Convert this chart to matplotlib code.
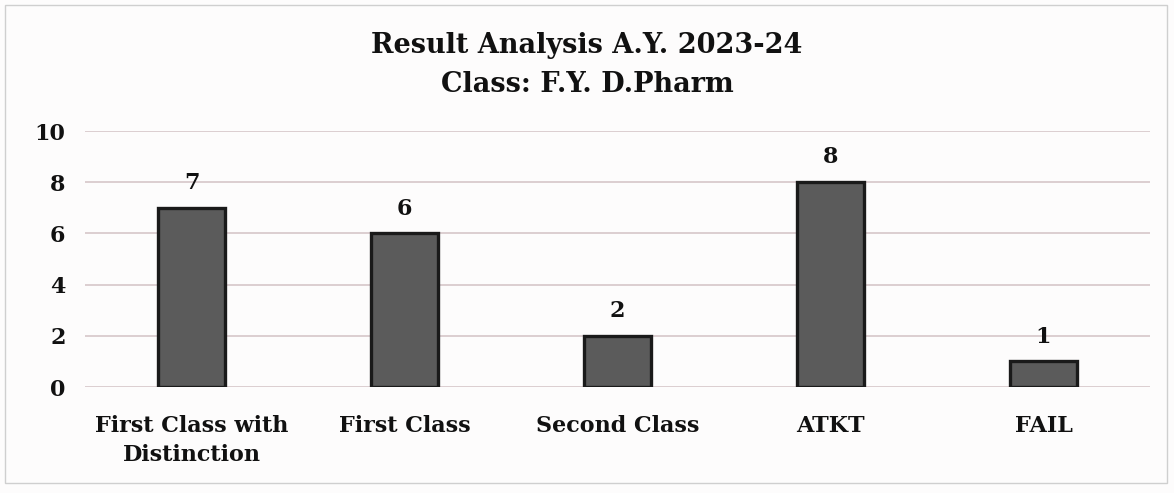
import matplotlib
matplotlib.use('Agg')
import matplotlib.pyplot as plt
from matplotlib.patches import Rectangle

# --- chart data ---
categories = ["First Class with\nDistinction", "First Class", "Second Class", "ATKT", "FAIL"]
counts = [7, 6, 2, 8, 1]
y_ticks = [0, 2, 4, 6, 8, 10]
title_text = "Result Analysis A.Y. 2023-24\nClass: F.Y. D.Pharm"

plt.rcParams['font.family'] = ['DejaVu Serif']
plt.rcParams['font.weight'] = 'bold'

fig = plt.figure(figsize=(11.74, 4.93), dpi=100, facecolor='#fdfcfc')
ax = fig.add_axes([85 / 1174, 1 - 387 / 493, 1065 / 1174, 256 / 493])
ax.set_facecolor('none')

x = list(range(len(categories)))
bars = ax.bar(x, counts, width=0.31, color='#5b5b5b', edgecolor='#1a1a1a', linewidth=2.4, zorder=3)

for rect, val in zip(bars, counts):
    ax.annotate(str(val), (rect.get_x() + rect.get_width() / 2, val),
                xytext=(0, 10), textcoords='offset points', ha='center', va='bottom',
                fontsize=16, fontweight='bold', color='#111111')

ax.set_xlim(-0.5, len(categories) - 0.5)
ax.set_ylim(0, 10)
ax.set_yticks(y_ticks)
ax.set_yticklabels([str(t) for t in y_ticks], fontsize=16, fontweight='bold', color='#111111')
ax.set_xticks(x)
ax.set_xticklabels(categories, fontsize=16, fontweight='bold', color='#111111', linespacing=1.45)
ax.tick_params(axis='both', length=0)
ax.tick_params(axis='y', pad=14)
ax.tick_params(axis='x', pad=20)

ax.grid(axis='y', color='#d6c6c9', linewidth=1.2, zorder=0)
ax.set_axisbelow(True)
for s in ax.spines.values():
    s.set_visible(False)

fig.text(0.5, 1 - 65 / 493, title_text, ha='center', va='center', fontsize=19.5,
         fontweight='bold', color='#111111', linespacing=1.6)

# chart frame
fig.patches.append(Rectangle((0.004, 0.02), 0.99, 0.97, transform=fig.transFigure,
                             fill=False, edgecolor='#cfcfcf', linewidth=1))

fig.savefig('out.png', dpi=100, facecolor=fig.get_facecolor())
